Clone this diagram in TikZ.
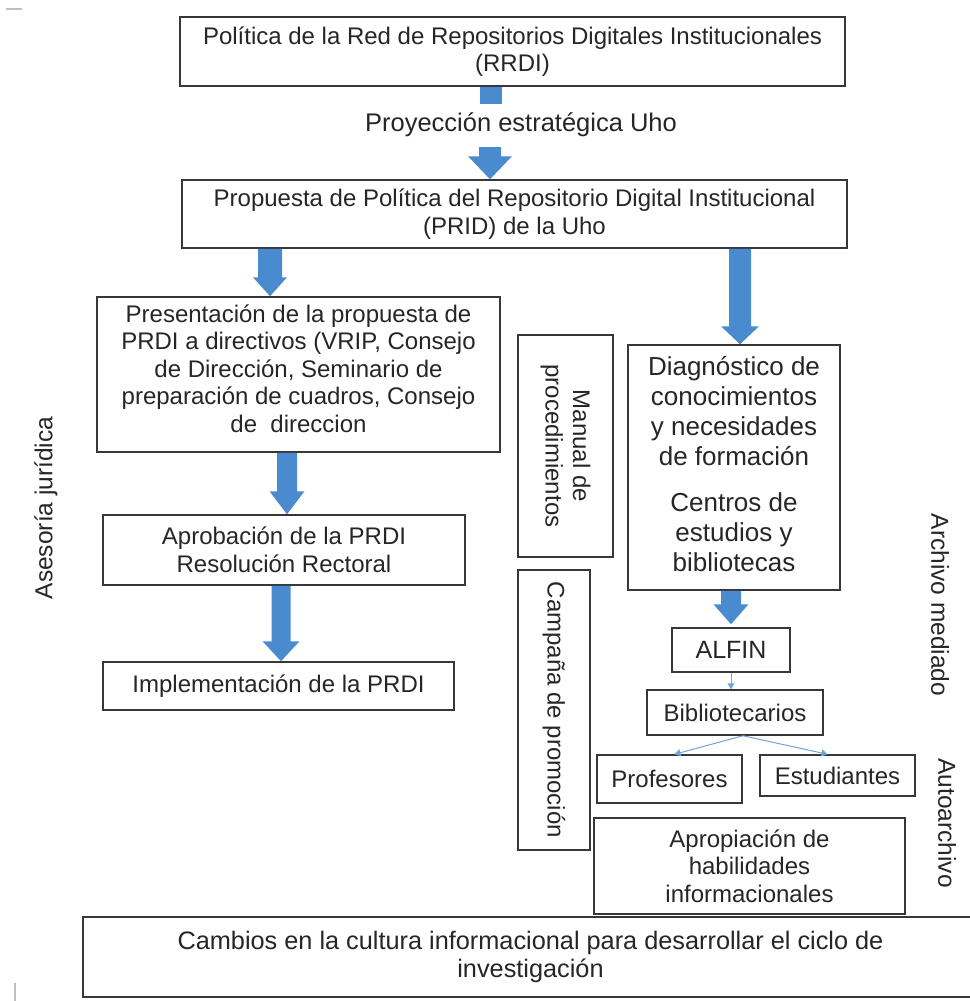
\documentclass[tikz,border=0pt]{standalone}
\usepackage{fontspec}
\setmainfont{Liberation Sans}
\usetikzlibrary{arrows.meta,calc}
\definecolor{arrblue}{RGB}{74,139,208}
\definecolor{thinblue}{RGB}{110,165,220}
\definecolor{boxline}{RGB}{55,55,55}
\definecolor{txt}{RGB}{38,38,38}
\newcommand\blockarr[5]{%
  \fill[arrblue] let \p1=(#1), \p2=(#2) in
    (\x1-#3,\y1) -- (\x1+#3,\y1) -- (\x1+#3,\y2+#5) -- (\x1+#4,\y2+#5)
    -- (\x1,\y2) -- (\x1-#4,\y2+#5) -- (\x1-#3,\y2+#5) -- cycle;}
\begin{document}
\begin{tikzpicture}[x=1pt,y=-1pt,
  box/.style={draw=boxline, line width=1.5pt, align=center, inner sep=0pt,
    text=txt, font=\fontsize{24}{27.5}\selectfont},
  lbl/.style={text=txt, inner sep=0pt, font=\fontsize{24.5}{28}\selectfont},
  thin/.style={draw=thinblue, line width=1pt, -{Triangle[width=7pt,length=6pt]}},
  artif/.style={draw=black!25, line width=1.5pt}]
\useasboundingbox (0,0) rectangle (969,1001);
\fill[white] (0,0) rectangle (969,1001);

% boxes
\node[box, minimum width=665pt, minimum height=69pt] (b1) at (512.5,51.5)
  {Política de la Red de Repositorios Digitales Institucionales\\(RRDI)};
\node[lbl, font=\fontsize{25.5}{30}\selectfont] (proy) at (521,125) {Proyección estratégica Uho};
\node[box, minimum width=665pt, minimum height=68pt] (b2) at (514.5,214)
  {Propuesta de Política del Repositorio Digital Institucional\\(PRID) de la Uho};
\node[box, minimum width=403pt, minimum height=155pt, text depth=12pt] (b3) at (298.5,374.5)
  {Presentación de la propuesta de\\PRDI a directivos (VRIP, Consejo\\de Dirección, Seminario de\\preparación de cuadros, Consejo\\de\ \ direccion};
\node[box, minimum width=362pt, minimum height=70pt] (b4) at (284,550)
  {Aprobación de la PRDI\\Resolución Rectoral};
\node[box, minimum width=351pt, minimum height=48pt] (b5) at (278.5,686)
  {Implementación de la PRDI};
\node[box, rotate=-90, minimum width=222pt, minimum height=95pt] (man) at (565.5,446)
  {Manual de\\procedimientos};
\node[box, rotate=-90, minimum width=280pt, minimum height=72pt] (camp) at (554,710)
  {Campaña de promoción};
\node[box, minimum width=212pt, minimum height=245pt, text depth=8pt,
  font=\fontsize{26}{30}\selectfont] (diag) at (734,467.5)
  {Diagnóstico de\\conocimientos\\y necesidades\\de formación\\[16pt]Centros de\\estudios y\\bibliotecas};
\node[box, minimum width=118pt, minimum height=44pt, font=\fontsize{25}{28}\selectfont] (alfin) at (731,650) {ALFIN};
\node[box, minimum width=176pt, minimum height=45pt] (bib) at (735,712.5) {Bibliotecarios};
\node[box, minimum width=145pt, minimum height=48pt] (prof) at (669.5,779) {Profesores};
\node[box, minimum width=155pt, minimum height=41pt] (est) at (837.5,775.5) {Estudiantes};
\node[box, minimum width=311pt, minimum height=96pt] (apro) at (749.5,866)
  {Apropiación de\\habilidades\\informacionales};
\node[box, minimum width=895pt, minimum height=80pt, font=\fontsize{25.3}{27.5}\selectfont] (camb) at (530.5,957)
  {Cambios en la cultura informacional para desarrollar el ciclo de\\investigación};

% side labels
\node[lbl, rotate=90] (ases) at (46,508) {Asesoría jurídica};
\node[lbl, rotate=-90] (arch) at (940,605) {Archivo mediado};
\node[lbl, rotate=-90] (auto) at (947,823) {Autoarchivo};

% block arrows
\coordinate (c1) at (491,0);
\coordinate (c2) at (490,0);
\coordinate (a2) at (270,0);
\coordinate (a3) at (287,0);
\coordinate (a4) at (281,0);
\coordinate (a5) at (740,0);
\coordinate (a6) at (731,0);
\fill[arrblue] ($(c1 |- b1.south)+(-11,0)$) rectangle ($(c1 |- b1.south)+(11,17)$);
\blockarr{$(c2 |- proy.south)+(0,10)$}{c2 |- b2.north}{11pt}{22pt}{23pt}
\blockarr{a2 |- b2.south}{a2 |- b3.north}{12pt}{17pt}{19pt}
\blockarr{a3 |- b3.south}{a3 |- b4.north}{10pt}{17.5pt}{23pt}
\blockarr{a4 |- b4.south}{a4 |- b5.north}{9.5pt}{18.5pt}{20pt}
\blockarr{a5 |- b2.south}{a5 |- diag.north}{11pt}{19pt}{18pt}
\blockarr{a6 |- diag.south}{$(a6 |- alfin.north)+(0,-3)$}{10pt}{17.5pt}{20pt}

% thin arrows
\draw[thin] (alfin.south) -- (alfin.south |- bib.north);
\draw[thin] ($(bib.south)+(8,0)$) -- ($(prof.north)+(5,0)$);
\draw[thin] ($(bib.south)+(8,0)$) -- ($(est.north)+(-10,0)$);

% scan marks
\draw[artif] (6,9) -- (22,9);
\draw[artif] (15,983) -- (15,1001);
\end{tikzpicture}
\end{document}
